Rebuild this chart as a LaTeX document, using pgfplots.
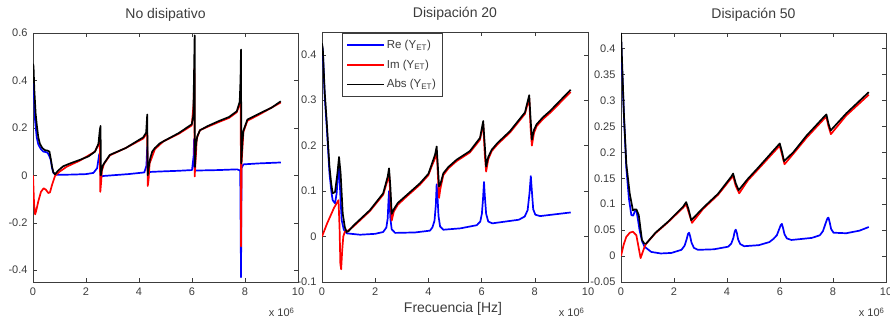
\documentclass[border=0pt]{standalone}
\usepackage{fontspec}
\setmainfont{Liberation Sans}
\usepackage{pgfplots}
\pgfplotsset{compat=1.18}
\definecolor{mblue}{RGB}{0,0,255}
\definecolor{mred}{RGB}{255,0,0}
\definecolor{axgray}{RGB}{60,60,60}
\pgfplotsset{
 mstyle/.style={
  scale only axis, width=265pt, height=249pt,
  xmin=0, xmax=10, xtick={0,2,4,6,8,10}, xticklabels={0,2,4,6,8,10},
  tick label style={font=\fontsize{11}{12}\selectfont, text=axgray},
  xticklabel style={anchor=base, yshift=-14pt},
  yticklabel style={anchor=east, xshift=-2pt},
  title style={font=\fontsize{14}{15}\selectfont, text=axgray, at={(0.5,1)}, anchor=base, yshift=8pt},
  axis line style={axgray}, every tick/.style={axgray}, major tick length=4pt,
  tick align=inside, xtick pos=both, ytick pos=both,
  /pgf/number format/assume math mode=true,
  legend image code/.code={\draw[##1] (0pt,0pt) -- (37pt,0pt);},
 },
 re/.style={mblue, line width=1.7pt, line join=round},
 im/.style={mred, line width=1.7pt, line join=round},
 ab/.style={black, line width=1.7pt, line join=round},
}
\begin{document}
\begin{tikzpicture}
\useasboundingbox (0,0) rectangle (890pt,320pt);
% ---------------- Panel 1 ----------------
\begin{axis}[mstyle, name=ax1, at={(33pt,38pt)}, anchor=south west,
  title={No disipativo}, ymin=-0.45, ymax=0.6,
  ytick={-0.4,-0.2,0,0.2,0.4,0.6}, yticklabels={-0.4,-0.2,0,0.2,0.4,0.6}]
\addplot[re] coordinates {
(0.00,0.40) (0.04,0.33) (0.08,0.23) (0.14,0.16) (0.20,0.13) (0.30,0.11) (0.39,0.10)
(0.48,0.098) (0.55,0.095) (0.60,0.085) (0.67,0.065) (0.72,0.03) (0.77,0.01) (0.85,0.003)
(1.00,0.002) (1.50,0.003) (2.00,0.005) (2.28,0.01) (2.42,0.03) (2.50,0.09) (2.53,0.09)
(2.55,0.0) (2.58,-0.005) (2.65,-0.003) (3.00,0.0) (3.60,0.005) (4.20,0.012) (4.28,0.04)
(4.31,0.12) (4.34,0.01) (4.40,0.014) (4.79,0.016) (5.50,0.019) (6.00,0.022) (6.06,0.08)
(6.08,0.154) (6.10,0.02) (6.15,0.02) (7.00,0.022) (7.70,0.025) (7.82,0.02) (7.85,-0.43)
(7.87,0.03) (7.94,0.046) (8.50,0.05) (9.35,0.054)};
\addplot[im] coordinates {
(0.00,0.0) (0.04,-0.12) (0.08,-0.165) (0.12,-0.15) (0.20,-0.11) (0.30,-0.07) (0.40,-0.055)
(0.48,-0.06) (0.58,-0.075) (0.64,-0.072) (0.72,-0.04) (0.83,-0.003) (0.90,0.005) (1.00,0.015)
(1.27,0.036) (1.77,0.062) (2.34,0.10) (2.47,0.13) (2.52,0.14) (2.54,-0.07) (2.57,-0.03)
(2.60,0.02) (2.68,0.048) (2.90,0.084) (3.50,0.115) (4.16,0.155) (4.28,0.175) (4.31,0.18)
(4.33,-0.045) (4.36,-0.02) (4.40,0.05) (4.60,0.11) (4.92,0.143) (5.50,0.175) (5.99,0.21)
(6.06,0.3) (6.09,0.45) (6.10,-0.005) (6.13,0.05) (6.18,0.155) (6.30,0.19) (6.60,0.205)
(7.00,0.224) (7.40,0.242) (7.69,0.266) (7.80,0.3) (7.84,0.33) (7.85,-0.30) (7.87,0.05)
(7.94,0.183) (8.09,0.23) (8.57,0.258) (9.35,0.307)};
\addplot[ab] coordinates {
(0.00,0.47) (0.02,0.46) (0.05,0.36) (0.10,0.26) (0.14,0.215) (0.20,0.16) (0.26,0.133)
(0.35,0.115) (0.45,0.106) (0.55,0.104) (0.62,0.10) (0.67,0.07) (0.72,0.035) (0.77,0.012)
(0.83,0.004) (0.95,0.02) (1.14,0.038) (1.40,0.05) (1.77,0.065) (2.10,0.08) (2.34,0.10)
(2.47,0.133) (2.52,0.19) (2.55,0.208) (2.56,0.0) (2.59,0.02) (2.63,0.04) (2.68,0.05)
(2.90,0.086) (3.50,0.115) (4.16,0.16) (4.27,0.18) (4.31,0.256) (4.33,0.0) (4.36,0.03)
(4.42,0.07) (4.50,0.1) (4.60,0.115) (4.79,0.135) (5.00,0.148) (5.50,0.178) (5.99,0.215)
(6.05,0.25) (6.08,0.45) (6.10,0.59) (6.11,0.035) (6.15,0.13) (6.20,0.165) (6.30,0.19)
(6.60,0.208) (7.00,0.228) (7.40,0.246) (7.69,0.27) (7.80,0.31) (7.83,0.4) (7.85,0.53)
(7.86,0.05) (7.90,0.14) (7.94,0.188) (8.09,0.235) (8.57,0.262) (9.00,0.285) (9.35,0.312)};
\end{axis}
\node[anchor=base east, font=\fontsize{11}{12}\selectfont, text=axgray] at ([yshift=-35pt]ax1.south east) {x 10\textsuperscript{6}};
% ---------------- Panel 2 ----------------
\begin{axis}[mstyle, name=ax2, at={(322pt,38pt)}, anchor=south west, width=266pt, height=250pt,
  title={Disipación 20}, ymin=-0.1, ymax=0.45,
  ytick={-0.1,0,0.1,0.2,0.3,0.4}, yticklabels={-0.1,0,0.1,0.2,0.3,0.4},
  legend style={at={(rel axis cs:0.075,0.997)}, anchor=north west, draw=axgray,
    font=\fontsize{11.5}{13}\selectfont, text=axgray, inner xsep=4pt, inner ysep=5pt,
    row sep=6pt, cells={anchor=west}},
  legend cell align=left]
\addplot[re] coordinates {
(0.00,0.42) (0.03,0.41) (0.10,0.31) (0.18,0.24) (0.28,0.14) (0.35,0.10) (0.40,0.08)
(0.49,0.073) (0.55,0.095) (0.60,0.135) (0.64,0.154) (0.69,0.09) (0.74,0.036) (0.82,0.015) (0.93,0.007)
(1.43,0.004) (2.00,0.006) (2.30,0.01) (2.42,0.02) (2.47,0.04) (2.50,0.08) (2.52,0.10)
(2.54,0.08) (2.57,0.04) (2.62,0.016) (2.75,0.008) (3.50,0.009) (4.06,0.013) (4.15,0.02)
(4.23,0.035) (4.28,0.07) (4.31,0.115) (4.34,0.09) (4.38,0.045) (4.44,0.022) (4.56,0.015)
(5.20,0.018) (5.82,0.025) (5.95,0.033) (6.01,0.05) (6.05,0.08) (6.09,0.12) (6.12,0.09)
(6.17,0.05) (6.25,0.033) (6.40,0.029) (7.40,0.037) (7.62,0.044) (7.73,0.058) (7.80,0.095)
(7.85,0.133) (7.89,0.10) (7.94,0.06) (8.02,0.048) (8.20,0.045) (9.35,0.053)};
\addlegendentry{Re (Y\textsubscript{ET})}
\addplot[im] coordinates {
(0.00,0.0) (0.10,0.015) (0.20,0.03) (0.30,0.043) (0.45,0.063) (0.55,0.073) (0.62,0.08)
(0.66,0.02) (0.69,-0.06) (0.72,-0.072) (0.76,-0.03) (0.80,0.0) (0.86,0.011) (0.95,0.012)
(1.18,0.022) (1.80,0.056) (2.30,0.092) (2.47,0.125) (2.52,0.14) (2.57,0.09) (2.62,0.035)
(2.70,0.055) (2.85,0.07) (3.18,0.088) (3.68,0.114) (4.00,0.135) (4.12,0.154) (4.25,0.172) (4.31,0.19) (4.36,0.13)
(4.40,0.085) (4.45,0.105) (4.56,0.135) (4.75,0.15) (5.06,0.166) (5.56,0.185) (5.94,0.213) (6.06,0.248)
(6.12,0.18) (6.17,0.143) (6.25,0.17) (6.38,0.188) (6.60,0.203) (7.07,0.229) (7.63,0.27) (7.79,0.305)
(7.84,0.24) (7.89,0.20) (7.97,0.228) (8.07,0.243) (8.30,0.258) (8.57,0.272) (9.35,0.318)};
\addlegendentry{Im (Y\textsubscript{ET})}
\addplot[ab] coordinates {
(0.00,0.425) (0.03,0.413) (0.10,0.32) (0.18,0.25) (0.28,0.154) (0.35,0.115) (0.40,0.095)
(0.49,0.098) (0.58,0.139) (0.64,0.175) (0.70,0.139) (0.78,0.05) (0.86,0.02) (0.93,0.01)
(1.00,0.012) (1.18,0.024) (1.80,0.058) (2.30,0.095) (2.47,0.132) (2.52,0.15) (2.57,0.11)
(2.62,0.05) (2.70,0.06) (2.85,0.074) (3.18,0.091) (3.68,0.117) (4.00,0.138) (4.12,0.158) (4.25,0.18) (4.31,0.198)
(4.36,0.15) (4.40,0.11) (4.45,0.115) (4.56,0.139) (4.75,0.153) (5.06,0.169) (5.56,0.188) (5.94,0.217)
(6.06,0.254) (6.12,0.20) (6.17,0.154) (6.25,0.175) (6.38,0.191) (6.60,0.206) (7.07,0.232) (7.63,0.273)
(7.79,0.311) (7.84,0.26) (7.89,0.213) (7.97,0.235) (8.07,0.247) (8.30,0.262) (8.57,0.276) (9.35,0.323)};
\addlegendentry{Abs (Y\textsubscript{ET})}
\end{axis}
\node[anchor=base east, font=\fontsize{11}{12}\selectfont, text=axgray] at ([yshift=-35pt]ax2.south east) {x 10\textsuperscript{6}};
\node[anchor=base, font=\fontsize{14}{15}\selectfont, text=axgray] at ([xshift=-2pt,yshift=-31pt]ax2.south) {Frecuencia [Hz]};
% ---------------- Panel 3 ----------------
\begin{axis}[mstyle, name=ax3, at={(621pt,38pt)}, anchor=south west,
  title={Disipación 50}, ymin=-0.05, ymax=0.43,
  ytick={-0.05,0,0.05,0.1,0.15,0.2,0.25,0.3,0.35,0.4},
  yticklabels={-0.05,0,0.05,0.1,0.15,0.2,0.25,0.3,0.35,0.4}]
\addplot[re] coordinates {
(0.00,0.42) (0.05,0.35) (0.11,0.27) (0.20,0.17) (0.30,0.11) (0.39,0.079) (0.46,0.078)
(0.52,0.086) (0.58,0.088) (0.64,0.07) (0.70,0.05) (0.80,0.028) (0.89,0.018) (1.14,0.008)
(1.50,0.005) (1.90,0.006) (2.28,0.012) (2.40,0.02) (2.48,0.033) (2.53,0.043) (2.57,0.045)
(2.61,0.038) (2.66,0.026) (2.75,0.016) (2.90,0.012) (3.50,0.013) (4.04,0.018) (4.16,0.024)
(4.24,0.035) (4.29,0.047) (4.33,0.051) (4.37,0.045) (4.42,0.032) (4.50,0.023) (4.65,0.019)
(5.20,0.021) (5.60,0.027) (5.75,0.033) (5.88,0.04) (5.97,0.052) (6.03,0.06) (6.07,0.062)
(6.11,0.055) (6.17,0.042) (6.26,0.034) (6.43,0.031) (7.20,0.035) (7.50,0.04) (7.62,0.048)
(7.72,0.063) (7.79,0.073) (7.83,0.074) (7.87,0.066) (7.93,0.052) (8.02,0.045) (8.50,0.044)
(9.00,0.049) (9.35,0.056)};
\addplot[im] coordinates {
(0.00,0.0) (0.10,0.022) (0.20,0.037) (0.33,0.045) (0.45,0.047) (0.58,0.04) (0.67,0.015)
(0.74,-0.004) (0.80,0.005) (0.89,0.018) (0.95,0.024) (1.30,0.044) (1.77,0.065) (2.34,0.093)
(2.46,0.10) (2.55,0.085) (2.68,0.064) (3.10,0.091) (3.66,0.118) (4.16,0.15) (4.23,0.154)
(4.33,0.135) (4.46,0.121) (4.79,0.146) (5.17,0.167) (5.92,0.209) (5.99,0.212) (6.08,0.195)
(6.17,0.177) (6.50,0.197) (7.00,0.228) (7.69,0.266) (7.75,0.268) (7.83,0.25) (7.92,0.235)
(8.50,0.271) (9.35,0.311)};
\addplot[ab] coordinates {
(0.00,0.43) (0.01,0.42) (0.05,0.36) (0.11,0.274) (0.20,0.178) (0.33,0.12) (0.45,0.088)
(0.52,0.09) (0.58,0.09) (0.67,0.079) (0.79,0.031) (0.88,0.024) (0.95,0.024) (1.30,0.045)
(1.77,0.066) (2.34,0.095) (2.46,0.104) (2.55,0.09) (2.65,0.069) (3.10,0.093) (3.66,0.12)
(4.16,0.153) (4.23,0.159) (4.33,0.14) (4.44,0.127) (4.79,0.149) (5.17,0.17) (5.92,0.213)
(5.99,0.217) (6.08,0.20) (6.15,0.183) (6.50,0.20) (7.00,0.232) (7.69,0.27) (7.75,0.273)
(7.83,0.255) (7.91,0.242) (8.50,0.275) (9.35,0.316)};
\end{axis}
\node[anchor=base east, font=\fontsize{11}{12}\selectfont, text=axgray] at ([xshift=2pt,yshift=-35pt]ax3.south east) {x 10\textsuperscript{6}};
\end{tikzpicture}
\end{document}
